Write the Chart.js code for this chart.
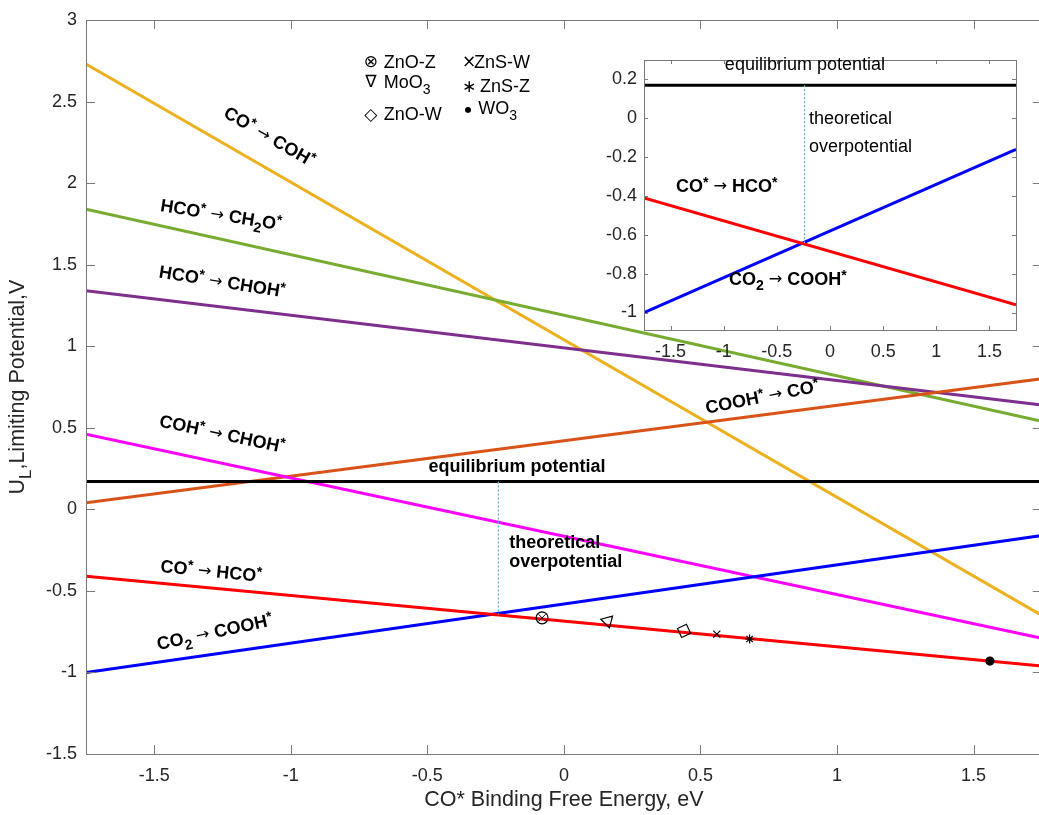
<html>
<head>
<title>Limiting potential vs CO* binding free energy</title>
<script src="https://cdn.jsdelivr.net/npm/chart.js"></script>
<style>
  body { margin: 0; overflow: hidden; background: white; }
  #main { position: absolute; left: 0; top: 0; }
  #inset { position: absolute; left: 600px; top: 40px; }
</style>
</head>
<body>
<canvas id="main" width="1050" height="815"></canvas>
<canvas id="inset" width="439" height="330"></canvas>
<script>
const FONT = '"Liberation Sans", Arial, Helvetica, sans-serif';
const ARROW_FONT = '"DejaVu Sans", sans-serif';

// both panels run from -1.75 to 1.75 eV
const xEnds = [-1.75, 1.75];
const xTicks = [-1.5, -1, -0.5, 0, 0.5, 1, 1.5];
const yTicks = [-1.5, -1, -0.5, 0, 0.5, 1, 1.5, 2, 2.5, 3];
const insetYTicks = [-1, -0.8, -0.6, -0.4, -0.2, 0, 0.2];

// U_L at the two ends of the x range
const cohY = [2.73, -0.65];      // CO* -> COH*
const ch2oY = [1.84, 0.54];      // HCO* -> CH2O*
const hcoChohY = [1.34, 0.64];   // HCO* -> CHOH*
const coohCoY = [0.04, 0.80];    // COOH* -> CO*
const cohChohY = [0.46, -0.79];  // COH* -> CHOH*
const coHcoY = [-0.41, -0.96];   // CO* -> HCO*
const co2CoohY = [-1.0, -0.16];  // CO2 -> COOH*
const eqPotential = 0.17;
const overX = -0.24;
const overBottom = -0.645;

// catalysts sitting on the CO* -> HCO* line
const catNames = ['ZnO-Z', 'MoO3', 'ZnO-W', 'ZnS-W', 'ZnS-Z', 'WO3'];
const catSymbols = ['⊗', '∇', '◇', '×', '∗', '●'];
const catX = [-0.08, 0.16, 0.44, 0.56, 0.68, 1.56];
const catY = [-0.665, -0.685, -0.745, -0.765, -0.795, -0.93];

// marker looks
const catStyle = ['circle', 'triangle', 'rectRot', 'crossRot', 'star', 'circle'];
const catRadius = [6, 7, 7, 5, 4.5, 4];
const catRot = [0, 165, 20, 0, 0, 0];
const catFill = ['rgba(0,0,0,0)', 'rgba(0,0,0,0)', 'rgba(0,0,0,0)', '#000', '#000', '#000'];
const symSize = [17, 17, 17, 17, 17, 8];

// ^c = superscript, _c = subscript, arrow in a thin regular face
function richParts(str) {
  const parts = [];
  for (let i = 0; i < str.length; i++) {
    const c = str[i];
    if (c === '^' || c === '_') { parts.push({t: str[i + 1], k: c}); i++; }
    else if (c === '→') parts.push({t: c, k: 'a'});
    else if (parts.length && parts[parts.length - 1].k === 'n') parts[parts.length - 1].t += c;
    else parts.push({t: c, k: 'n'});
  }
  return parts;
}

function drawRich(ctx, str, x, y, size, bold, angle, left, color) {
  const parts = richParts(str);
  const fontOf = p => {
    if (p.k === 'a') return (size * 0.9) + 'px ' + ARROW_FONT;
    const w = bold ? 'bold ' : '';
    const s = (p.k === '^' || p.k === '_') ? size * 0.78 : size;
    return w + s + 'px ' + FONT;
  };
  let total = 0;
  parts.forEach(p => { ctx.font = fontOf(p); p.w = ctx.measureText(p.t).width; total += p.w; });
  ctx.save();
  ctx.translate(x, y);
  ctx.rotate(angle * Math.PI / 180);
  ctx.textBaseline = 'middle';
  ctx.textAlign = 'left';
  ctx.fillStyle = color || '#000';
  let cx = left ? 0 : -total / 2;
  parts.forEach(p => {
    ctx.font = fontOf(p);
    const dy = p.k === '^' ? -size * 0.22 : p.k === '_' ? size * 0.38 : 0;
    ctx.fillText(p.t, cx, dy);
    cx += p.w;
  });
  ctx.restore();
}

function line(ys, color) {
  return {
    data: xEnds.map((x, i) => ({x: x, y: ys[i]})),
    showLine: true, borderColor: color, borderWidth: 3, pointRadius: 0
  };
}
function hline(yv, color) {
  return {
    data: xEnds.map(x => ({x: x, y: yv})),
    showLine: true, borderColor: color, borderWidth: 3, pointRadius: 0
  };
}
function overLine() {
  return {
    data: [{x: overX, y: eqPotential}, {x: overX, y: overBottom}],
    showLine: true, borderColor: '#5aaedc', borderWidth: 1.3, borderDash: [2, 2], pointRadius: 0
  };
}

// box round the axes with inward ticks on all four sides
function framePlugin(len) {
  return {
    id: 'frame',
    beforeDatasetsDraw(chart) {
      const {ctx, chartArea: a} = chart;
      ctx.save();
      ctx.fillStyle = '#fff';
      ctx.fillRect(a.left, a.top, a.right - a.left, a.bottom - a.top);
      ctx.restore();
    },
    afterDatasetsDraw(chart) {
      const {ctx, chartArea: a, scales: {x, y}} = chart;
      ctx.save();
      ctx.strokeStyle = '#7a7a7a';
      ctx.lineWidth = 1;
      ctx.beginPath();
      x.ticks.forEach(t => {
        const px = Math.round(x.getPixelForValue(t.value)) + 0.5;
        ctx.moveTo(px, a.bottom); ctx.lineTo(px, a.bottom - len);
        ctx.moveTo(px, a.top); ctx.lineTo(px, a.top + len);
      });
      y.ticks.forEach(t => {
        const py = Math.round(y.getPixelForValue(t.value)) + 0.5;
        ctx.moveTo(a.left, py); ctx.lineTo(a.left + len, py);
        ctx.moveTo(a.right, py); ctx.lineTo(a.right - len, py);
      });
      ctx.stroke();
      ctx.strokeRect(Math.round(a.left) + 0.5, Math.round(a.top) + 0.5,
        Math.round(a.right - a.left), Math.round(a.bottom - a.top));
      ctx.restore();
    }
  };
}

function notesPlugin(notes, extra) {
  return {
    id: 'notes',
    afterDraw(chart) {
      const {ctx, scales: {x, y}} = chart;
      notes.forEach(n => {
        drawRich(ctx, n.t, x.getPixelForValue(n.x), y.getPixelForValue(n.y),
          18, n.b, n.a || 0, n.left);
      });
      if (extra) extra(chart);
    }
  };
}

function scales(ymin, ymax, yt, yWidth, xHeight, yPad, xPad) {
  const tickFont = {family: FONT, size: 18};
  return {
    x: {
      type: 'linear', min: xEnds[0], max: xEnds[1],
      afterBuildTicks: s => { s.ticks = xTicks.map(v => ({value: v})); },
      afterFit: s => { s.height = xHeight; },
      grid: {display: false, drawTicks: false},
      border: {display: false},
      ticks: {font: tickFont, color: '#262626', padding: xPad, maxRotation: 0, autoSkip: false,
        callback: v => String(v)}
    },
    y: {
      type: 'linear', min: ymin, max: ymax,
      afterBuildTicks: s => { s.ticks = yt.map(v => ({value: v})); },
      afterFit: s => { s.width = yWidth; },
      grid: {display: false, drawTicks: false},
      border: {display: false},
      ticks: {font: tickFont, color: '#262626', padding: yPad, autoSkip: false,
        callback: v => String(v)}
    }
  };
}

const mainNotes = [
  {t: 'CO^* → COH^*', x: -1.08, y: 2.28, a: 30, b: true},
  {t: 'HCO^* → CH_2O^*', x: -1.256, y: 1.80, a: 9, b: true},
  {t: 'HCO^* → CHOH^*', x: -1.252, y: 1.39, a: 9, b: true},
  {t: 'COH^* → CHOH^*', x: -1.252, y: 0.457, a: 12, b: true},
  {t: 'COOH^* → CO^*', x: 0.727, y: 0.684, a: -11, b: true},
  {t: 'CO^* → HCO^*', x: -1.292, y: -0.384, a: 5.5, b: true},
  {t: 'CO_2 → COOH^*', x: -1.278, y: -0.757, a: -12, b: true},
  {t: 'equilibrium potential', x: -0.172, y: 0.26, b: true},
  {t: 'theoretical', x: -0.2, y: -0.205, b: true, left: true},
  {t: 'overpotential', x: -0.2, y: -0.322, b: true, left: true}
];

// legend block: symbol position, text position (data units)
const legendSymX = [-0.707, -0.707, -0.707, -0.347, -0.347, -0.350];
const legendSymY = [2.737, 2.614, 2.412, 2.737, 2.584, 2.449];
const legendTxtX = [-0.66, -0.66, -0.66, -0.329, -0.307, -0.314];
const legendTxtY = [2.737, 2.611, 2.418, 2.737, 2.59, 2.455];

function drawOuterText(chart) {
  const {ctx, chartArea: a, scales: {x, y}} = chart;
  catNames.forEach((name, i) => {
    ctx.save();
    ctx.font = symSize[i] + 'px "DejaVu Sans", sans-serif';
    ctx.fillStyle = '#000';
    ctx.textAlign = 'center';
    ctx.textBaseline = 'middle';
    ctx.fillText(catSymbols[i], x.getPixelForValue(legendSymX[i]), y.getPixelForValue(legendSymY[i]));
    ctx.restore();
    drawRich(ctx, name.replace(/(\d)/g, '_$1'), x.getPixelForValue(legendTxtX[i]),
      y.getPixelForValue(legendTxtY[i]), 18, false, 0, true);
  });
  drawRich(ctx, 'CO* Binding Free Energy, eV', (a.left + a.right) / 2, 800, 21.5, false, 0, false, '#262626');
  drawRich(ctx, 'U_L,Limiting Potential,V', 18, (a.top + a.bottom) / 2, 21.5, false, -90, false, '#262626');
}

new Chart(document.getElementById('main'), {
  type: 'scatter',
  data: {
    datasets: [
      {data: [{x: catX[0], y: catY[0]}], pointStyle: 'crossRot', pointRadius: 5,
        pointBorderColor: '#000', pointBorderWidth: 1},
      {data: catX.map((x, i) => ({x: x, y: catY[i]})), pointStyle: catStyle, pointRadius: catRadius,
        pointRotation: catRot, pointBackgroundColor: catFill, pointBorderColor: '#000', pointBorderWidth: 1.2},
      overLine(),
      hline(eqPotential, '#000'),
      line(coHcoY, '#ff0000'),
      line(co2CoohY, '#0000ff'),
      line(cohChohY, '#ff00ff'),
      line(coohCoY, '#d95319'),
      line(hcoChohY, '#7e2f8e'),
      line(ch2oY, '#77ac30'),
      line(cohY, '#edb120')
    ]
  },
  options: {
    responsive: false,
    animation: false,
    events: [],
    layout: {padding: {left: 0, right: 3, top: 20, bottom: 0}},
    plugins: {legend: {display: false}, tooltip: {enabled: false}},
    scales: scales(-1.5, 3, yTicks, 86, 61, 9, 11)
  },
  plugins: [framePlugin(9), notesPlugin(mainNotes, drawOuterText)]
});

const insetNotes = [
  {t: 'equilibrium potential', x: -0.236, y: 0.272, b: false},
  {t: 'theoretical', x: -0.198, y: -0.003, b: false, left: true},
  {t: 'overpotential', x: -0.198, y: -0.147, b: false, left: true},
  {t: 'CO^* → HCO^*', x: -0.972, y: -0.352, b: true},
  {t: 'CO_2 → COOH^*', x: -0.396, y: -0.831, b: true}
];

new Chart(document.getElementById('inset'), {
  type: 'scatter',
  data: {
    datasets: [
      overLine(),
      hline(eqPotential, '#000'),
      line(coHcoY, '#ff0000'),
      line(co2CoohY, '#0000ff')
    ]
  },
  options: {
    responsive: false,
    animation: false,
    events: [],
    layout: {padding: {left: 0, right: 23, top: 20, bottom: 0}},
    plugins: {legend: {display: false}, tooltip: {enabled: false}},
    scales: scales(-1.09, 0.3, insetYTicks, 44, 40, 7, 11)
  },
  plugins: [framePlugin(4), notesPlugin(insetNotes)]
});
</script>
</body>
</html>
